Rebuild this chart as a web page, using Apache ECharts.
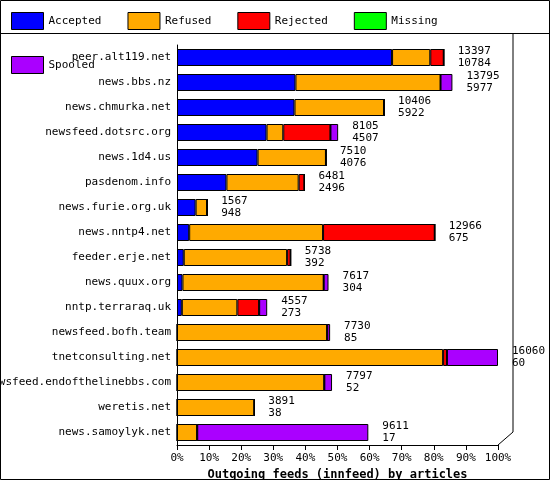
<!DOCTYPE html><html><head><meta charset="utf-8"><script src="https://cdn.jsdelivr.net/npm/echarts@6/dist/echarts.min.js"></script></head><body style="margin:0"><div id="c" style="width:550px;height:480px"></div><script>
const categories=["peer.alt119.net","news.bbs.nz","news.chmurka.net","newsfeed.dotsrc.org","news.1d4.us","pasdenom.info","news.furie.org.uk","news.nntp4.net","feeder.erje.net","news.quux.org","nntp.terraraq.uk","newsfeed.bofh.team","tnetconsulting.net","newsfeed.endofthelinebbs.com","weretis.net","news.samoylyk.net"];
const accepted=[67.0,36.9,36.6,27.9,25.1,15.4,5.8,3.8,2.1,1.7,1.5,0,0,0,0,0];
const refused=[11.9,45.2,27.9,5.2,21.3,22.5,3.6,41.7,32.2,44.0,17.3,46.8,82.9,45.9,24.1,6.3];
const rejected=[4.2,0,0,14.7,0,1.8,0,34.8,1.1,0,6.8,0,1.2,0,0,0];
const missing=[0,0,0,0,0,0,0,0,0,0,0,0,0,0,0,0];
const spooled=[0,3.7,0,2.4,0,0,0,0,0,1.5,2.5,0.9,15.9,2.4,0,53.3];
const offered=[13397,13795,10406,8105,7510,6481,1567,12966,5738,7617,4557,7730,16060,7797,3891,9611];
const acceptedCount=[10784,5977,5922,4507,4076,2496,948,675,392,304,273,85,60,52,38,17];
const ticks=[0,10,20,30,40,50,60,70,80,90,100];
const font="DejaVu Sans Mono";
const names=["Accepted","Refused","Rejected","Missing","Spooled"];
const colors=["#0000ff","#ffaa00","#ff0000","#00ff00","#aa00ff"];
const data=[accepted,refused,rejected,missing,spooled];
const series=names.map((n,i)=>({name:n,type:'bar',stack:'s',barWidth:17,data:data[i],itemStyle:{color:colors[i],borderColor:'#000',borderWidth:1}}));
series.push({name:'lbl',type:'bar',stack:'s',data:offered.map(()=>0),itemStyle:{color:'transparent',borderWidth:0},
 label:{show:true,position:'right',distance:14,fontFamily:font,fontSize:11,color:'#000',lineHeight:12,
 formatter:p=>offered[p.dataIndex]+'\n'+acceptedCount[p.dataIndex]},tooltip:{show:false}});
const chart=echarts.init(document.getElementById('c'));
chart.setOption({backgroundColor:'#fff',animation:false,
 legend:{data:names,icon:'rect',top:7,left:6,itemGap:26,itemWidth:32,itemHeight:17,textStyle:{fontFamily:font,fontSize:11,color:'#000'},itemStyle:{borderColor:'#000',borderWidth:1}},
 graphic:[{type:'rect',shape:{x:0.5,y:0.5,width:549,height:479},style:{fill:'none',stroke:'#000'}},
  {type:'line',shape:{x1:0,y1:33.5,x2:550,y2:33.5},style:{stroke:'#000'}},
  {type:'line',shape:{x1:513,y1:33,x2:513,y2:432},style:{stroke:'#000'}},
  {type:'line',shape:{x1:498,y1:445,x2:513,y2:432},style:{stroke:'#000'}}],
 grid:{left:177,right:52,top:45,bottom:35,containLabel:false,outerBoundsMode:'none'},
 xAxis:{type:'value',min:0,max:100,interval:10,axisLine:{show:true,lineStyle:{color:'#000'}},axisTick:{show:true,lineStyle:{color:'#000'}},splitLine:{show:false},
  axisLabel:{fontFamily:font,fontSize:11,color:'#000',formatter:v=>ticks.includes(v)?v+'%':''},
  name:'Outgoing feeds (innfeed) by articles',nameLocation:'middle',nameGap:16,nameTextStyle:{fontFamily:font,fontSize:12,fontWeight:'bold',color:'#000'}},
 yAxis:{type:'category',inverse:true,data:categories,axisLine:{lineStyle:{color:'#000'}},axisTick:{show:false},axisLabel:{fontFamily:font,fontSize:11,color:'#000',margin:6}},
 series});
</script></body></html>
